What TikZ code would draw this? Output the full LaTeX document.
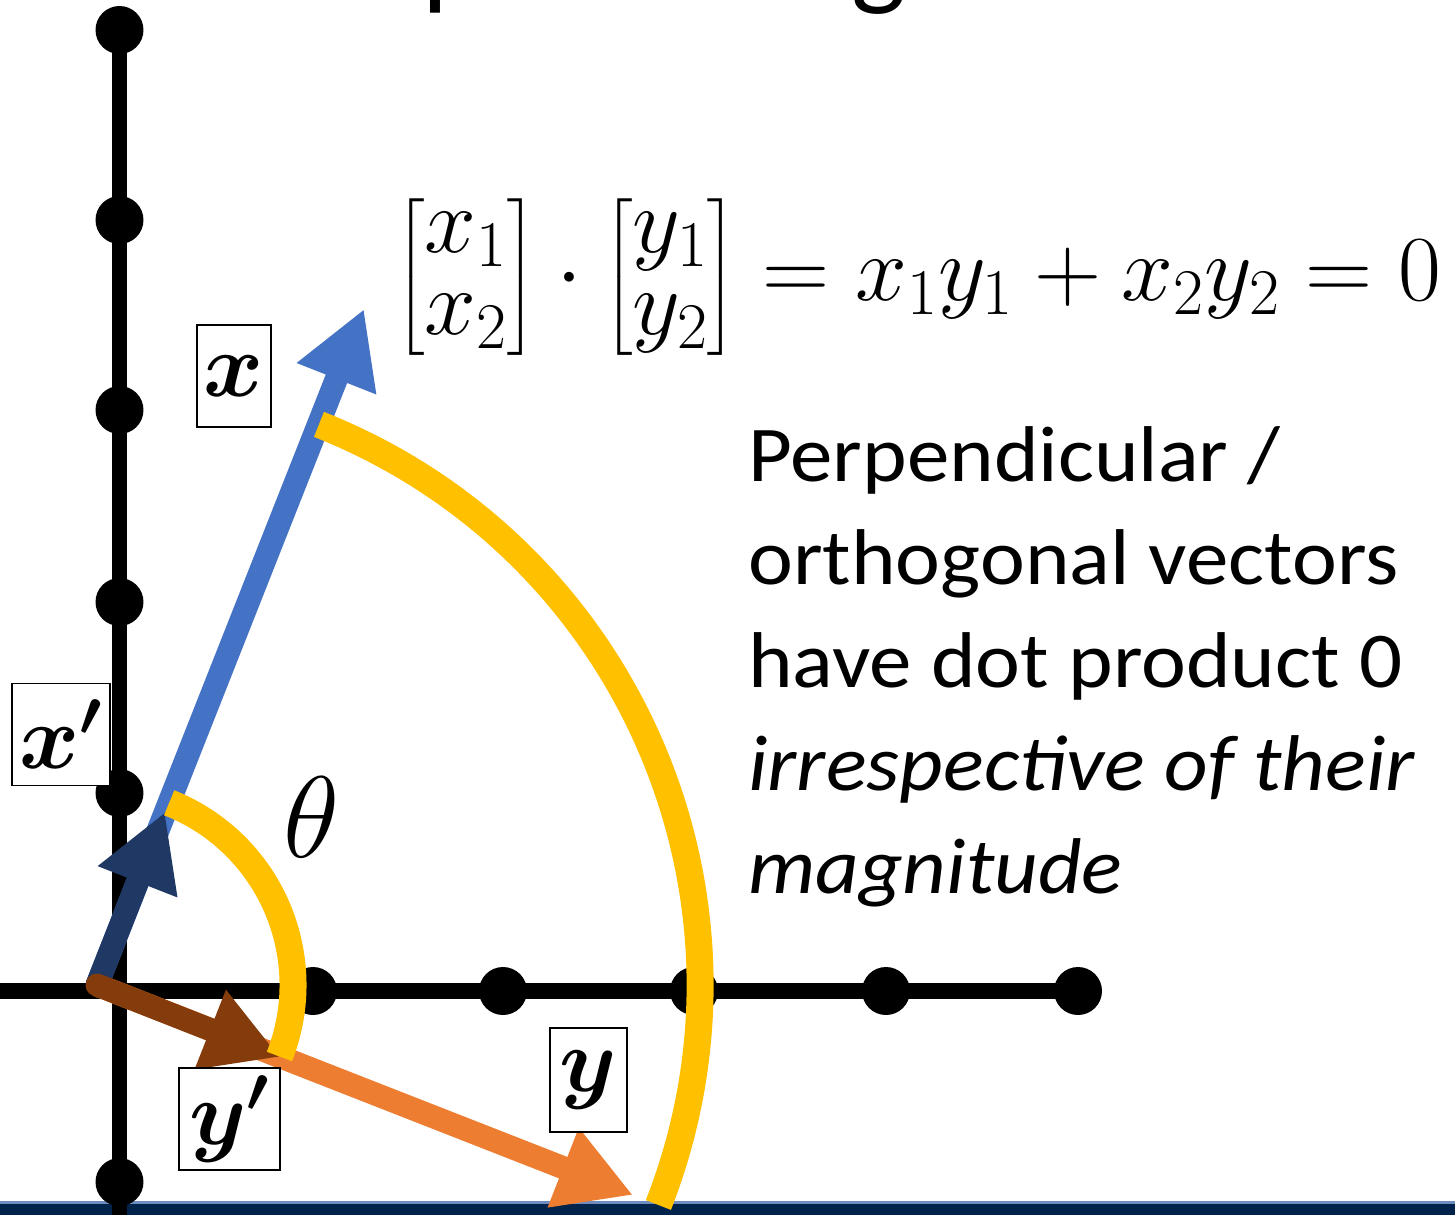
\RequirePackage{fix-cm}
\documentclass[tikz,border=0pt]{standalone}
\usepackage{amsmath}
\usepackage{fontspec}
\setmainfont{Carlito}
\newfontfamily\bodyfont[FakeStretch=1.075]{Carlito}
\usetikzlibrary{arrows.meta}
\definecolor{vblue}{HTML}{4472C4}
\definecolor{vorange}{HTML}{ED7D31}
\definecolor{vdark}{HTML}{203864}
\definecolor{vbrown}{HTML}{843C0C}
\definecolor{vyellow}{HTML}{FFC000}
\definecolor{navybar}{RGB}{0,35,75}
\definecolor{barline}{RGB}{110,140,190}
\begin{document}
\begin{tikzpicture}[x=0.02cm,y=-0.02cm,
  axisline/.style={line width=0.32cm, black},
  tickdot/.style={circle, fill=black, inner sep=0, minimum size=0.96cm},
  vecarrow/.style={line width=0.46cm, -{Triangle[length=1.5cm,width=1.6cm]}},
  anglearc/.style={line width=0.54cm, draw=vyellow},
  labbox/.style={draw, fill=white, line width=0.03cm, inner sep=0, font=\fontsize{52}{52}\selectfont},
]
\useasboundingbox (0,0) rectangle (1455,1215);
\clip (0,0) rectangle (1455,1215);
% bottom bar
\fill[navybar] (0,1203) rectangle (1455,1215);
\fill[barline] (0,1201) rectangle (1455,1204);
% title fragments (cut off at top)
\node[anchor=base west, inner sep=0, font=\fontsize{66}{70}\selectfont] (tp) at (422,-6) {p};
\node[anchor=base west, inner sep=0, font=\fontsize{66}{70}\selectfont] (tg) at (851,-6) {g};
% ticks
\node[tickdot] (v1) at (119.5,30) {};
\node[tickdot] (v2) at (119.5,220) {};
\node[tickdot] (v3) at (119.5,410) {};
\node[tickdot] (v4) at (119.5,602) {};
\node[tickdot] (v5) at (119.5,793) {};
\node[tickdot] (v6) at (119.5,1182) {};
\node[tickdot] (h1) at (313,991) {};
\node[tickdot] (h2) at (503,991) {};
\node[tickdot] (h3) at (694,991) {};
\node[tickdot] (h4) at (886,991) {};
\node[tickdot] (h5) at (1078,991) {};
\coordinate (vb) at (119.5,1215);
\coordinate (hl) at (0,991);
\draw[axisline] (v1.center) -- (vb);
\draw[axisline] (hl) -- (h5.center);
% vectors
\coordinate (O) at (97,985);
\coordinate (xt) at (364,309);
\coordinate (yt) at (633,1195);
\coordinate (xpt) at (165,812);
\coordinate (ypt) at (280,1057);
\draw[vecarrow, vblue] (O) -- (xt);
\draw[vecarrow, vorange] (O) -- (yt);
\draw[vecarrow, vdark] (O) -- (xpt);
\draw[vecarrow, vbrown, line cap=round] (O) -- (ypt);
% angle arcs
\draw[anglearc] (O) ++(-68.4:603) arc[start angle=-68.4, end angle=21.4, radius=603];
\draw[anglearc] (O) ++(-68.4:196) arc[start angle=-68.4, end angle=21.4, radius=196];
% labels
\node[labbox, minimum width=1.48cm, minimum height=2.04cm] (lx) at (234,376) {$\boldsymbol{x}$};
\node[labbox, minimum width=1.96cm, minimum height=2.04cm] (lxp) at (61,734.5) {$\boldsymbol{x'}$};
\node[labbox, minimum width=2.02cm, minimum height=2.04cm] (lyp) at (229.5,1119) {$\boldsymbol{y'}$};
\node[labbox, minimum width=1.54cm, minimum height=2.08cm] (ly) at (588.5,1080) {$\boldsymbol{y}$};
\node[inner sep=0, font=\fontsize{66}{70}\selectfont] (th) at (312,817) {$\theta$};
% equation
\node[anchor=west, inner sep=0, font=\fontsize{53}{60}\selectfont] (eq) at (395,277)
  {\renewcommand{\arraystretch}{0.78}\delimiterfactor=850 \delimitershortfall=20pt
   $\begin{bmatrix}x_1\\x_2\end{bmatrix}\cdot\begin{bmatrix}y_1\\y_2\end{bmatrix}=x_1y_1+x_2y_2=0$};
% text
\node[anchor=north west, inner sep=0, align=left, font=\bodyfont\fontsize{45}{58.6}\selectfont] (txt) at (748,426)
  {Perpendicular /\\orthogonal vectors\\have dot product 0\\\textit{irrespective of their}\\\textit{magnitude}};
\end{tikzpicture}
\end{document}
